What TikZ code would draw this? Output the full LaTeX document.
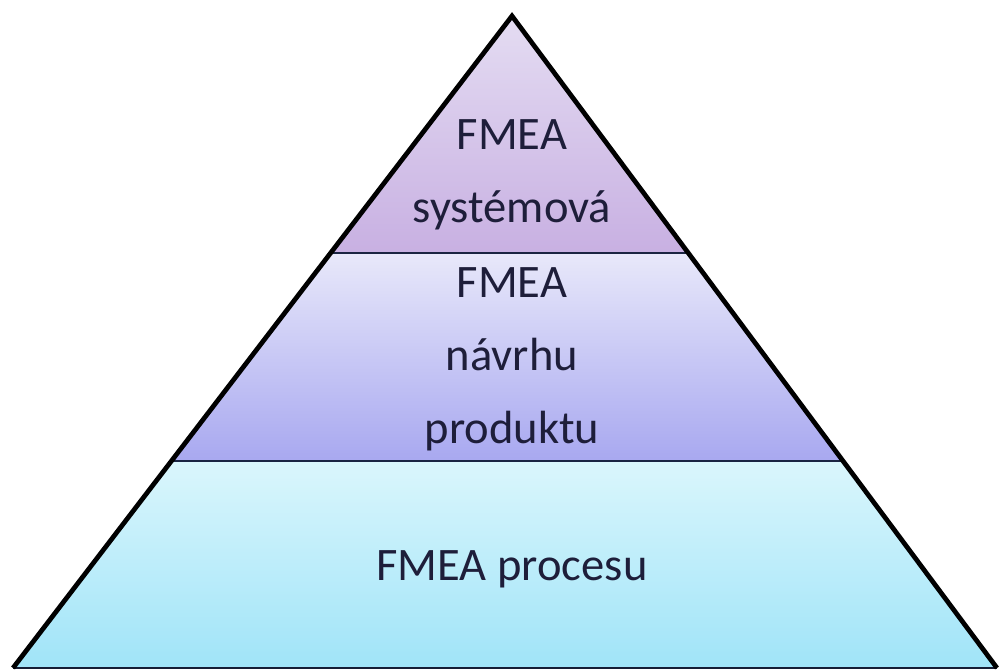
\documentclass[tikz,border=0pt]{standalone}
\usepackage{fontspec}
\setmainfont{Carlito}
\usepackage{xcolor}
\definecolor{toptop}{RGB}{228, 220, 242}
\definecolor{topbot}{RGB}{200, 176, 226}
\definecolor{midtop}{RGB}{232, 232, 250}
\definecolor{midbot}{RGB}{168, 168, 240}
\definecolor{lowtop}{RGB}{218, 246, 252}
\definecolor{lowbot}{RGB}{160, 228, 248}
\definecolor{txtnavy}{RGB}{30, 30, 58}
\definecolor{divline}{RGB}{26, 36, 66}
\usetikzlibrary{calc,positioning}

\begin{document}
\begin{tikzpicture}[x=0.02cm, y=-0.02cm,
    band/.style={draw=none},
    divider/.style={divline, line width=1.1pt},
    lvl/.style={text=txtnavy, align=center, font=\fontsize{26.5}{41.5}\selectfont}]
    \useasboundingbox (0,0) rectangle (1002,672);

    % Pyramid corners
    \coordinate (apex) at (512,16);
    \coordinate (baseL) at (13,668);
    \coordinate (baseR) at (997,668);

    % Band boundaries
    \coordinate (upL) at ($(apex)!0.3635!(baseL)$);
    \coordinate (upR) at ($(apex)!0.3635!(baseR)$);
    \coordinate (loL) at ($(apex)!0.6825!(baseL)$);
    \coordinate (loR) at ($(apex)!0.6825!(baseR)$);

    % Fills
    \fill[band, top color=toptop, bottom color=topbot] (apex) -- (upR) -- (upL) -- cycle;
    \fill[band, top color=midtop, bottom color=midbot] (upL) -- (upR) -- (loR) -- (loL) -- cycle;
    \fill[band, top color=lowtop, bottom color=lowbot] (loL) -- (loR) -- (baseR) -- (baseL) -- cycle;

    % Dividers
    \draw[divider] (upL) -- (upR);
    \draw[divider] (loL) -- (loR);
    \draw[divline!80!black, line width=1.6pt] (baseL) -- (baseR);

    % Outline
    \draw[black, line width=2.7pt, line join=miter] (baseL) -- (apex) -- (baseR);

    % Labels
    \node[lvl] (sys) at (512,175) {FMEA\\systémová};
    \node[lvl] (nav) at (512,359) {FMEA\\návrhu\\produktu};
    \node[lvl] (proc) at (512,569) {FMEA procesu};
\end{tikzpicture}
\end{document}
